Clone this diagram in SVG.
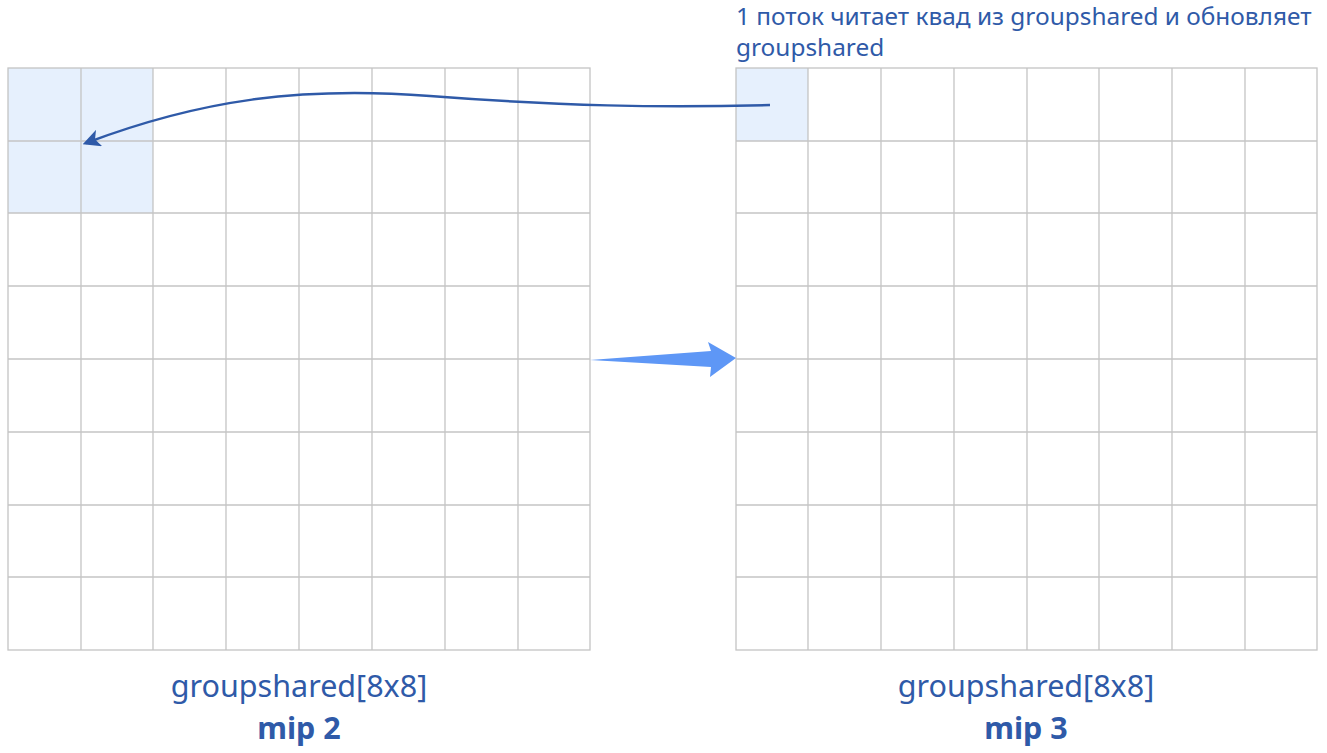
<svg xmlns="http://www.w3.org/2000/svg" width="1327" height="753" viewBox="0 0 1327 753">
<defs>
<style>
.grid line{stroke:#c4c4c4;stroke-width:1.3}
.frame{fill:none;stroke:#c4c4c4;stroke-width:1.3}
.hl{fill:#e6f0fd}
.lbl{font-family:"Noto Sans","Open Sans",sans-serif;fill:#2f5aa8;font-size:30.5px;text-anchor:middle}
.b{font-weight:bold}
.note{font-family:"Noto Sans","Open Sans",sans-serif;fill:#2f5aa8;font-size:24.4px}
</style>
<marker id="ah" viewBox="0 0 10 10" refX="8" refY="5" markerWidth="7" markerHeight="7" orient="auto">
<path d="M0,0 L10,5 L0,10 L2.5,5 Z" fill="#2f5aa8"/>
</marker>
</defs>
<rect width="1327" height="753" fill="#fff"/>
<g id="mip2">
<rect class="hl" x="8" y="68" width="145" height="145"/>
<g class="grid">
<line x1="81" y1="68" x2="81" y2="650"/><line x1="153" y1="68" x2="153" y2="650"/><line x1="226" y1="68" x2="226" y2="650"/><line x1="299" y1="68" x2="299" y2="650"/><line x1="372" y1="68" x2="372" y2="650"/><line x1="445" y1="68" x2="445" y2="650"/><line x1="518" y1="68" x2="518" y2="650"/>
<line x1="8" y1="141" x2="590" y2="141"/><line x1="8" y1="213" x2="590" y2="213"/><line x1="8" y1="286" x2="590" y2="286"/><line x1="8" y1="359" x2="590" y2="359"/><line x1="8" y1="432" x2="590" y2="432"/><line x1="8" y1="505" x2="590" y2="505"/><line x1="8" y1="577" x2="590" y2="577"/>
</g>
<rect class="frame" x="8" y="68" width="582" height="582"/>
<text class="lbl" x="299" y="697">groupshared[8x8]</text>
<text class="lbl b" x="299" y="739">mip 2</text>
</g>
<g id="mip3">
<rect class="hl" x="736" y="68" width="72" height="73"/>
<g class="grid">
<line x1="808" y1="68" x2="808" y2="650"/><line x1="881" y1="68" x2="881" y2="650"/><line x1="954" y1="68" x2="954" y2="650"/><line x1="1027" y1="68" x2="1027" y2="650"/><line x1="1099" y1="68" x2="1099" y2="650"/><line x1="1172" y1="68" x2="1172" y2="650"/><line x1="1245" y1="68" x2="1245" y2="650"/>
<line x1="736" y1="141" x2="1317" y2="141"/><line x1="736" y1="213" x2="1317" y2="213"/><line x1="736" y1="286" x2="1317" y2="286"/><line x1="736" y1="359" x2="1317" y2="359"/><line x1="736" y1="432" x2="1317" y2="432"/><line x1="736" y1="505" x2="1317" y2="505"/><line x1="736" y1="577" x2="1317" y2="577"/>
</g>
<rect class="frame" x="736" y="68" width="581" height="582"/>
<text class="lbl" x="1026" y="697">groupshared[8x8]</text>
<text class="lbl b" x="1026" y="739">mip 3</text>
</g>
<g id="note">
<text class="note" x="736" y="25">1 поток читает квад из groupshared и обновляет</text>
<text class="note" x="736" y="56">groupshared</text>
</g>
<g id="connectors">
<path d="M770,105 C660,108 560,106 430,96 C300,86 200,100 86,143" fill="none" stroke="#2f5aa8" stroke-width="2.5" marker-end="url(#ah)"/>
<path d="M590,360 L711,351 L708,342 L736,358 L710,377 L711,367 Z" fill="#5e97f6"/>
</g>
</svg>
